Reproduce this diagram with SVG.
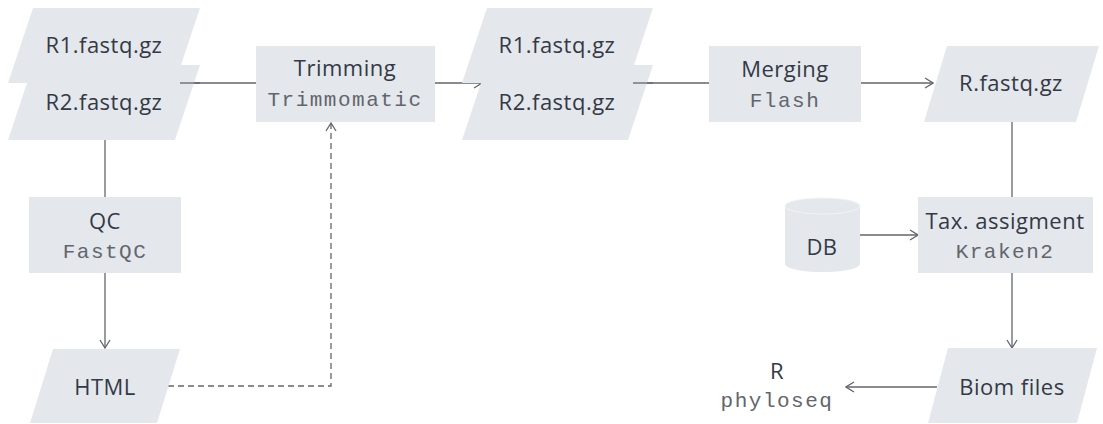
<svg xmlns="http://www.w3.org/2000/svg" width="1103" height="424" viewBox="0 0 1103 424">
<defs>
<style>
.shape{fill:#e4e7ec;stroke:none}
.t{font-family:"Open Sans","Liberation Sans",sans-serif;font-size:22px;fill:#333a45;text-anchor:middle;letter-spacing:0.5px}
.m{font-family:"Liberation Mono","DejaVu Sans Mono",monospace;font-size:21px;fill:#62666c;text-anchor:middle;letter-spacing:1.5px}
.c{fill:none;stroke:#62666c;stroke-width:1.3}
.d{stroke-dasharray:6 4}
</style>
<marker id="arr" viewBox="0 0 12 12" refX="11" refY="6" markerWidth="12" markerHeight="12" markerUnits="userSpaceOnUse" orient="auto">
<path d="M3,1 L11,6 L3,11" fill="none" stroke="#62666c" stroke-width="1.3"/>
</marker>
</defs>
<rect width="1103" height="424" fill="#ffffff"/>
<g id="connectors">
<line class="c" x1="180" y1="83" x2="256" y2="83"/>
<line class="c" x1="435" y1="83" x2="482" y2="83" marker-end="url(#arr)"/>
<line class="c" x1="633" y1="83" x2="709" y2="83"/>
<line class="c" x1="861" y1="83" x2="933" y2="83" marker-end="url(#arr)"/>
<line class="c" x1="1012" y1="122" x2="1012" y2="197"/>
<line class="c" x1="860" y1="235" x2="918" y2="235" marker-end="url(#arr)"/>
<line class="c" x1="1012" y1="273" x2="1012" y2="348" marker-end="url(#arr)"/>
<line class="c" x1="937" y1="387" x2="846" y2="387" marker-end="url(#arr)"/>
<line class="c" x1="105" y1="140" x2="105" y2="197"/>
<line class="c" x1="105" y1="273" x2="105" y2="348" marker-end="url(#arr)"/>
<path class="c d" d="M168,386 H331 V123" marker-end="url(#arr)"/>
</g>
<g id="r1a"><polygon class="shape" points="33,8 200,8 175,83 8,83"/><text class="t" x="104" y="53">R1.fastq.gz</text></g>
<g id="r2a"><polygon class="shape" points="33,65 200,65 175,140 8,140"/><text class="t" x="104" y="110">R2.fastq.gz</text></g>
<line class="c" x1="180" y1="83" x2="200" y2="83"/>
<g id="trimming"><rect class="shape" x="256" y="46" width="179" height="76"/><text class="t" x="345" y="76">Trimming</text><text class="m" x="345" y="106">Trimmomatic</text></g>
<g id="r1b"><polygon class="shape" points="487,8 653,8 628,83 462,83"/><text class="t" x="557" y="53">R1.fastq.gz</text></g>
<g id="r2b"><polygon class="shape" points="487,65 653,65 628,140 462,140"/><text class="t" x="557" y="110">R2.fastq.gz</text></g>
<line class="c" x1="633" y1="83" x2="653" y2="83"/>
<g id="merging"><rect class="shape" x="709" y="46" width="152" height="76"/><text class="t" x="785" y="77">Merging</text><text class="m" x="785" y="107">Flash</text></g>
<g id="rfastq"><polygon class="shape" points="947,46 1099,46 1076,122 924,122"/><text class="t" x="1011" y="91">R.fastq.gz</text></g>
<g id="qc"><rect class="shape" x="29" y="197" width="152" height="76"/><text class="t" x="105" y="229">QC</text><text class="m" x="105" y="258">FastQC</text></g>
<g id="html"><polygon class="shape" points="53,349 180,349 157,423 30,423"/><text class="t" x="105" y="395">HTML</text></g>
<g id="db"><path class="shape" d="M785,206 A37.5,8 0 0 1 860,206 V264 A37.5,8 0 0 1 785,264 Z"/><ellipse cx="822.5" cy="206" rx="37.5" ry="8" fill="none" stroke="#f3f4f6" stroke-width="1"/><text class="t" x="822" y="255">DB</text></g>
<g id="tax"><rect class="shape" x="918" y="197" width="175" height="76"/><text class="t" x="1005" y="229">Tax. assigment</text><text class="m" x="1005" y="258">Kraken2</text></g>
<g id="biom"><polygon class="shape" points="948,348 1097,348 1077,423 928,423"/><text class="t" x="1012" y="395">Biom files</text></g>
<g id="r"><text class="t" x="777" y="379">R</text><text class="m" x="777" y="407">phyloseq</text></g>
</svg>
